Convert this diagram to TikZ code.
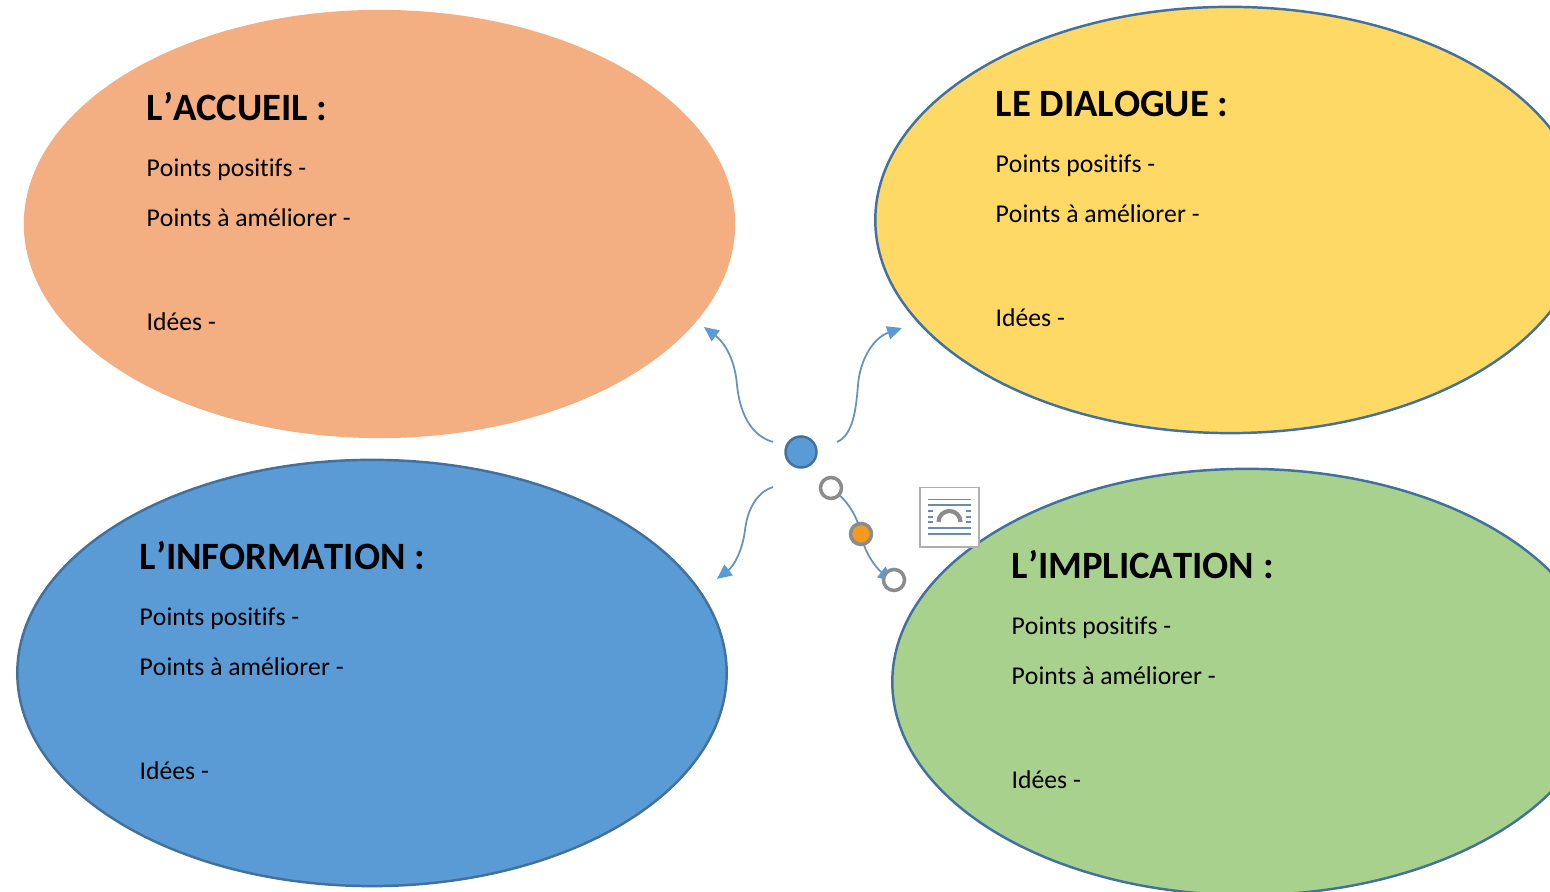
\documentclass[tikz,border=0pt]{standalone}
\usepackage{fontspec}
\setmainfont[Ligatures=NoCommon, Kerning=Off]{Carlito}
\usepackage{tikz}
\usetikzlibrary{arrows.meta, shapes.geometric}
\definecolor{peau}{HTML}{F3AF82}
\definecolor{jaune}{HTML}{FFD966}
\definecolor{bleu}{HTML}{5B9BD5}
\definecolor{vert}{HTML}{A9D18E}
\definecolor{trait}{HTML}{41719C}
\definecolor{poignee}{HTML}{8C8C8C}
\definecolor{ambre}{HTML}{F49B1D}

\begin{document}
\begin{tikzpicture}[
    x=0.01cm, y=-0.01cm,
    bulle/.style={ellipse, minimum width=7.09cm, minimum height=4.26cm, inner sep=0pt},
    titre/.style={anchor=base west, inner sep=0pt, font=\fontsize{11}{13}\selectfont\bfseries},
    ligne/.style={anchor=base west, inner sep=0pt, font=\fontsize{7.3}{9}\selectfont},
    arr/.style={-{Triangle[length=4.2pt, width=3.8pt, color=bleu]}, color=bleu!70!gray, line width=0.5pt},
    poignee vide/.style={circle, draw=poignee, line width=1pt, fill=white, minimum size=0.21cm, inner sep=0pt},
    icone/.style={draw=poignee!70, line width=0.3pt, fill=white, minimum size=0.59cm, inner sep=0pt},
    filet/.style={color=trait!80, line width=0.3pt},
]
\clip (0,0) rectangle (1550,892);
\fill[white] (0,0) rectangle (1550,892);

% === Bulles ===
\node[bulle, fill=peau, minimum width=7.11cm, minimum height=4.28cm] at (379.5,224) (accueil) {};
\node[bulle, fill=jaune, draw=trait, line width=0.7pt] at (1230,220) (dialogue) {};
\node[bulle, fill=bleu, draw=trait, line width=0.7pt] at (372,673) (information) {};
\node[bulle, fill=vert, draw=trait, line width=0.7pt] at (1247,682) (implication) {};

% === Textes ===
\node[titre] at (146,121) (accueil-titre) {L’ACCUEIL :};
\node[ligne] at (146,177) (accueil-pos) {Points positifs -};
\node[ligne] at (146,227) (accueil-ame) {Points à améliorer -};
\node[ligne] at (146,331) (accueil-idees) {Idées -};

\node[titre] at (995,117) (dialogue-titre) {LE DIALOGUE :};
\node[ligne] at (995,173) (dialogue-pos) {Points positifs -};
\node[ligne] at (995,223) (dialogue-ame) {Points à améliorer -};
\node[ligne] at (995,327) (dialogue-idees) {Idées -};

\node[titre] at (139,570) (information-titre) {L’INFORMATION :};
\node[ligne] at (139,626) (information-pos) {Points positifs -};
\node[ligne] at (139,676) (information-ame) {Points à améliorer -};
\node[ligne] at (139,780) (information-idees) {Idées -};

\node[titre] at (1011,579) (implication-titre) {L’IMPLICATION :};
\node[ligne] at (1011,635) (implication-pos) {Points positifs -};
\node[ligne] at (1011,685) (implication-ame) {Points à améliorer -};
\node[ligne] at (1011,788.5) (implication-idees) {Idées -};

% === Fleches ===
\coordinate (hg) at (773,442);
\coordinate (hg-fin) at (704,327);
\coordinate (hd) at (837,442);
\coordinate (hd-fin) at (902,328);
\coordinate (bg) at (773,487);
\coordinate (bg-fin) at (717,579);
\coordinate (bd) at (831,488);
\coordinate (bd-mil) at (861,534);
\coordinate (bd-fin) at (893,581);

\draw[arr] (hg) .. controls (752,436) and (740,415) .. (737,385) .. controls (735,360) and (725,343) .. (hg-fin);
\draw[arr] (hd) .. controls (853,435) and (856,410) .. (858,385) .. controls (860,360) and (873,338) .. (hd-fin);
\draw[arr] (bg) .. controls (760,491) and (748,505) .. (745,530) .. controls (743,548) and (735,565) .. (bg-fin);
\draw[arr] (bd) .. controls (848,500) and (858,518) .. (bd-mil) .. controls (864,552) and (876,568) .. (bd-fin);

% === Centre et poignees ===
\node[circle, fill=bleu, draw=trait, line width=0.7pt, minimum size=0.31cm, inner sep=0pt] at (801,452) (centre) {};
\node[poignee vide] at (bd) (poignee-a) {};
\node[poignee vide] at (894,580) (poignee-b) {};
\node[circle, fill=ambre, draw=poignee, line width=1pt, minimum size=0.21cm, inner sep=0pt] at (bd-mil) (poignee-c) {};

% === Icone ===
\node[icone] at (949.5,517.5) (icone) {};
\draw[filet] (928,499.5) -- (971,499.5);
\draw[filet] (928,505) -- (971,505);
\draw[filet] (928,511) -- (933,511);
\draw[filet] (966,511) -- (971,511);
\draw[filet] (928,517) -- (933,517);
\draw[filet] (966,517) -- (971,517);
\draw[filet] (928,522) -- (933,522);
\draw[filet] (966,522) -- (971,522);
\draw[filet] (928,528) -- (971,528);
\draw[filet] (928,534) -- (971,534);
\draw[color=poignee, line width=1.2pt] (938.5,522) arc[start angle=180, end angle=0, radius=0.11cm];
\end{tikzpicture}
\end{document}
